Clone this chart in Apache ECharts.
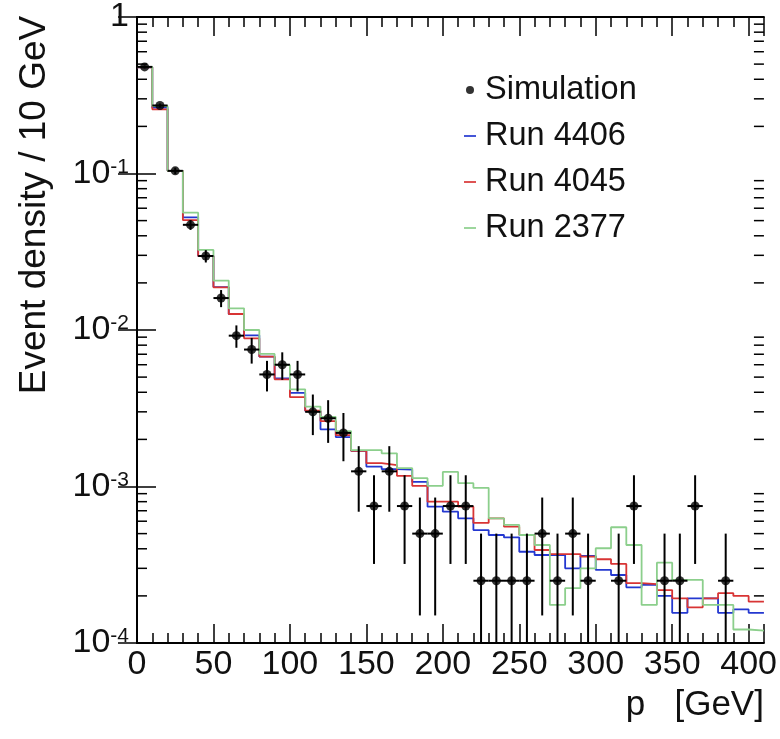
<!DOCTYPE html>
<html>
<head>
<meta charset="utf-8">
<script src="https://cdn.jsdelivr.net/npm/echarts@6/dist/echarts.min.js"></script>
<style>html,body{margin:0;padding:0;background:#fff}#c{width:780px;height:739px}</style>
</head>
<body>
<div id="c"></div>
<script>
// ---------------- data ----------------
const binWidth = 10; // GeV
const binCenters = [5,15,25,35,45,55,65,75,85,95,105,115,125,135,145,155,165,175,185,195,
  205,215,225,235,245,255,265,275,285,295,305,315,325,335,345,355,365,375,385,395,405];

const simValues = [0.48,0.272,0.104,0.047,0.0297,0.016,0.0092,0.0075,0.0052,0.006,
  0.0052,0.003,0.00273,0.0022,0.00125,0.00075,0.00125,0.00075,0.0005,0.0005,
  0.00075,0.00075,0.00025,0.00025,0.00025,0.00025,0.0005,0.00025,0.0005,0.00025,
  null,0.00025,0.00075,null,0.00025,0.00025,0.00075,null,0.00025,null,null];

const simErrors = [0.011,0.008,0.005,0.0034,0.0027,0.002,0.0015,0.0014,0.00115,0.0012,
  0.00115,0.00087,0.00083,0.00075,0.00056,0.00043,0.00056,0.00043,0.00035,0.00035,
  0.00043,0.00043,0.00025,0.00025,0.00025,0.00025,0.00035,0.00025,0.00035,0.00025,
  null,0.00025,0.00043,null,0.00025,0.00025,0.00043,null,0.00025,null,null];

const run4406 = [0.477,0.264,0.104,0.0525,0.0297,0.0188,0.01265,0.00925,0.00675,0.00491,
  0.00397,0.00304,0.00232,0.00207,0.00169,0.00134,0.00129,0.00128,0.00107,0.000743,
  0.00069,0.000626,0.000527,0.00049,0.000473,0.000383,0.000365,0.000365,0.0003,0.00036,
  0.000293,0.000272,0.000227,0.000235,0.0002,0.000156,0.000193,0.000193,0.000156,0.000164,0.000156];

const run4045 = [0.477,0.257,0.104,0.0504,0.0297,0.01875,0.01265,0.00885,0.00676,0.00484,
  0.00372,0.00305,0.00262,0.00213,0.00169,0.00141,0.00137,0.00117,0.00101,0.0008,
  0.0008,0.000743,0.000585,0.000626,0.000554,0.00049,0.000393,0.00037,0.00037,0.000356,
  0.000343,0.00032,0.000241,0.000238,0.000218,0.000193,0.000169,0.000193,0.000208,0.0002,0.000184];

const run2377 = [0.48,0.27,0.104,0.0562,0.0325,0.0207,0.01376,0.01,0.00703,0.00597,
  0.00418,0.00324,0.00278,0.00226,0.00171,0.00171,0.00163,0.00131,0.00113,0.00101,
  0.00124,0.00105,0.00098,0.000626,0.000568,0.00049,0.000423,0.000175,0.000224,0.0003,
  0.000403,0.000549,0.000423,0.000175,0.000326,0.000253,0.000253,0.000175,0.000175,0.000122,0.00012];

const xTickLabels = ['0','50','100','150','200','250','300','350','400'];
const yMinorTicks = [2e-4,3e-4,4e-4,5e-4,6e-4,7e-4,8e-4,9e-4,
  2e-3,3e-3,4e-3,5e-3,6e-3,7e-3,8e-3,9e-3,
  2e-2,3e-2,4e-2,5e-2,6e-2,7e-2,8e-2,9e-2,
  0.2,0.3,0.4,0.5,0.6,0.7,0.8,0.9];

// ---------------- chart ----------------
const FONT = 'Liberation Sans, Arial, Helvetica, sans-serif';
const X_MIN = 0, X_MAX = 410, Y_MIN = 1e-4, Y_MAX = 1;
const COL_4406 = '#2438d0', COL_4045 = '#d83434', COL_2377 = '#8ccf8c';
const LINE_ICON = 'path://M0,0H12V1.7H0Z';

function histData(vals) {
  const d = vals.map((v, i) => [binCenters[i] - binWidth / 2, v]);
  d.push([binCenters[vals.length - 1] + binWidth / 2, vals[vals.length - 1]]);
  return d;
}

const simPoints = [];
const simBars = [];
binCenters.forEach((c, i) => {
  if (simValues[i] != null) {
    simPoints.push([c, simValues[i]]);
    simBars.push([c, simValues[i], simErrors[i]]);
  }
});

const chart = echarts.init(document.getElementById('c'), null, {renderer: 'canvas'});

const axisLineStyle = {color: '#000', width: 2};

chart.setOption({
  animation: false,
  backgroundColor: '#fff',
  textStyle: {fontFamily: FONT},
  grid: {left: 137, right: 15, top: 17, bottom: 96, containLabel: false},
  legend: {
    orient: 'vertical', left: 459, top: 67,
    itemWidth: 12, itemHeight: 8, itemGap: 10,
    textStyle: {fontSize: 32.5, color: '#111', fontFamily: FONT, lineHeight: 36, padding: [0, 0, 0, 4]},
    data: [
      {name: 'Simulation', icon: 'circle'},
      {name: 'Run 4406', icon: LINE_ICON, itemStyle: {color: COL_4406}},
      {name: 'Run 4045', icon: LINE_ICON, itemStyle: {color: COL_4045}},
      {name: 'Run 2377', icon: LINE_ICON, itemStyle: {color: COL_2377}}
    ]
  },
  xAxis: [{
    type: 'value', min: X_MIN, max: X_MAX, interval: 50, position: 'bottom',
    name: 'p   [GeV]', nameLocation: 'end', nameGap: 0, nameMoveOverlap: false,
    nameTextStyle: {fontSize: 35, color: '#111', fontFamily: FONT, align: 'right', verticalAlign: 'top', padding: [45, 0, 0, 0]},
    axisLine: {show: true, lineStyle: axisLineStyle},
    axisTick: {show: true, inside: true, length: 19, lineStyle: {color: '#000', width: 1.5}},
    minorTick: {show: true, splitNumber: 5, length: 10, lineStyle: {color: '#000', width: 1.5}},
    axisLabel: {show: true, fontSize: 34, color: '#111', fontFamily: FONT, margin: 5, showMaxLabel: false,
      formatter: v => xTickLabels[Math.round(v / 50)] ?? ''},
    splitLine: {show: false}
  }, {
    type: 'value', min: X_MIN, max: X_MAX, interval: 50, position: 'top',
    axisLine: {show: true, lineStyle: axisLineStyle},
    axisTick: {show: true, inside: true, length: 19, lineStyle: {color: '#000', width: 1.5}},
    minorTick: {show: true, splitNumber: 5, length: 10, lineStyle: {color: '#000', width: 1.5}},
    axisLabel: {show: false}, splitLine: {show: false}
  }],
  yAxis: [{
    type: 'log', logBase: 10, min: Y_MIN, max: Y_MAX, position: 'left',
    name: 'Event density / 10 GeV', nameLocation: 'middle', nameGap: 84, nameMoveOverlap: false,
    nameTextStyle: {fontSize: 37, color: '#111', fontFamily: FONT, padding: [0, 0, 0, 250]},
    axisLine: {show: true, lineStyle: axisLineStyle},
    axisTick: {show: true, inside: true, length: 19, lineStyle: {color: '#000', width: 1.5}},
    axisLabel: {
      show: true, margin: 8, color: '#111', fontFamily: FONT,
      formatter: v => {
        const e = Math.round(Math.log10(v));
        return e === 0 ? '{b|1}' : '{b|10}{s|' + e + '}';
      },
      rich: {
        b: {fontSize: 34, lineHeight: 34, fontFamily: FONT, color: '#111'},
        s: {fontSize: 21, lineHeight: 21, fontFamily: FONT, color: '#111', verticalAlign: 'top'}
      }
    },
    splitLine: {show: false}
  }, {
    type: 'log', logBase: 10, min: Y_MIN, max: Y_MAX, position: 'right',
    axisLine: {show: true, lineStyle: axisLineStyle},
    axisTick: {show: true, inside: true, length: 19, lineStyle: {color: '#000', width: 1.5}},
    axisLabel: {show: false}, splitLine: {show: false}
  }],
  series: [
    {
      name: 'log minor ticks', type: 'custom', silent: true, clip: false,
      data: yMinorTicks.map(v => [X_MIN, v]),
      renderItem: (params, api) => {
        const v = api.value(1);
        const pl = api.coord([X_MIN, v]);
        const pr = api.coord([X_MAX, v]);
        return {type: 'group', children: [
          {type: 'line', shape: {x1: pl[0], y1: pl[1], x2: pl[0] + 10, y2: pl[1]}, style: {stroke: '#000', lineWidth: 1.5}},
          {type: 'line', shape: {x1: pr[0], y1: pr[1], x2: pr[0] - 10, y2: pr[1]}, style: {stroke: '#000', lineWidth: 1.5}}
        ]};
      }
    },
    {name: 'Run 4406', type: 'line', step: 'end', data: histData(run4406), showSymbol: false, symbol: 'none',
      lineStyle: {color: COL_4406, width: 1.8}, itemStyle: {color: COL_4406}, z: 3},
    {name: 'Run 4045', type: 'line', step: 'end', data: histData(run4045), showSymbol: false, symbol: 'none',
      lineStyle: {color: COL_4045, width: 1.8}, itemStyle: {color: COL_4045}, z: 3},
    {name: 'Run 2377', type: 'line', step: 'end', data: histData(run2377), showSymbol: false, symbol: 'none',
      lineStyle: {color: COL_2377, width: 1.8}, itemStyle: {color: COL_2377}, z: 3},
    {
      name: 'Simulation errors', type: 'custom', clip: true, z: 4,
      data: simBars,
      renderItem: (params, api) => {
        const x = api.value(0), v = api.value(1), e = api.value(2);
        const lo = Math.max(v - e, Y_MIN), hi = Math.min(v + e, Y_MAX);
        const pL = api.coord([x - binWidth / 2, v]);
        const pR = api.coord([x + binWidth / 2, v]);
        const pLo = api.coord([x, lo]);
        const pHi = api.coord([x, hi]);
        return {type: 'group', children: [
          {type: 'line', shape: {x1: pL[0], y1: pL[1], x2: pR[0], y2: pR[1]}, style: {stroke: '#000', lineWidth: 2}},
          {type: 'line', shape: {x1: pLo[0], y1: pLo[1], x2: pHi[0], y2: pHi[1]}, style: {stroke: '#000', lineWidth: 2}}
        ]};
      }
    },
    {name: 'Simulation', type: 'scatter', data: simPoints, symbol: 'circle', symbolSize: 9,
      itemStyle: {color: '#000'}, z: 5}
  ]
});
</script>
</body>
</html>
